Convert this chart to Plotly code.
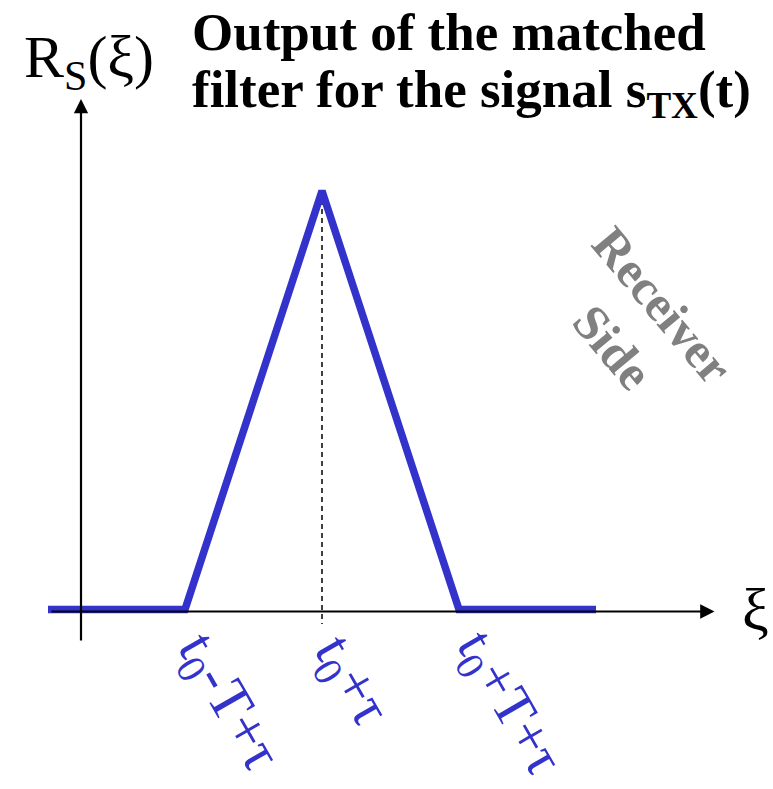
import plotly.graph_objects as go

# Matched-filter output: triangle centred on t0+tau with half-width T
xi_values = [-2, -1, 0, 1, 2]          # in units of T, relative to t0+tau
r_values = [0, 0, 1, 0, 0]             # normalised R_S(xi)
tick_values = [-1, 0, 1]
tick_labels = ["t<sub>0</sub>-T+τ", "t<sub>0</sub>+τ", "t<sub>0</sub>+T+τ"]

W, H = 773, 789
BLUE = "#3333CC"
SERIF = "Liberation Serif, Times New Roman, serif"

# axis ranges chosen so the layout fills the page
X_PX0, X_UNIT = 322, 137.0
Y_PX0, Y_UNIT = 609.5, 418.5
x_range = [-X_PX0 / X_UNIT, (W - X_PX0) / X_UNIT]
y_range = [-(H - Y_PX0) / Y_UNIT, Y_PX0 / Y_UNIT]


def dx(px):
    return (px - X_PX0) / X_UNIT


def dy(py):
    return (Y_PX0 - py) / Y_UNIT


fig = go.Figure()

# dashed marker at the peak
fig.add_trace(go.Scatter(
    x=[xi_values[2], xi_values[2]], y=[r_values[2], dy(624)],
    mode="lines", line=dict(color="black", width=1.5, dash="5px,4px"),
    hoverinfo="skip", showlegend=False))

# coordinate axes with arrowheads
fig.add_annotation(x=dx(714.5), y=dy(611.5), ax=dx(50), ay=dy(611.5),
                   xref="x", yref="y", axref="x", ayref="y", text="",
                   showarrow=True, arrowhead=2, arrowsize=1.3, arrowwidth=2.2,
                   arrowcolor="black")
fig.add_annotation(x=dx(81), y=dy(99), ax=dx(81), ay=dy(642),
                   xref="x", yref="y", axref="x", ayref="y", text="",
                   showarrow=True, arrowhead=2, arrowsize=1.3, arrowwidth=2.2,
                   arrowcolor="black")

fig.add_trace(go.Scatter(
    x=xi_values, y=r_values, mode="lines",
    line=dict(color=BLUE, width=7.5),
    hoverinfo="skip", showlegend=False))

# rotated tick labels below the axis
shifts = [(42, -93), (28, -72), (49, -94)]
sizes = [58, 58, 56]
for v, lab, (xs, ys), sz in zip(tick_values, tick_labels, shifts, sizes):
    fig.add_annotation(x=v, y=0, xref="x", yref="y", text=lab, showarrow=False,
                       textangle=60, xshift=xs, yshift=ys,
                       font=dict(family=SERIF, size=sz, color=BLUE))

# axis names
fig.add_annotation(x=22 / W, y=1 - 62 / H, xref="paper", yref="paper",
                   xanchor="left", yanchor="middle", showarrow=False,
                   text="R<sub>S</sub>(ξ)",
                   font=dict(family=SERIF, size=60, color="black"))
fig.add_annotation(x=dx(755), y=dy(610), xref="x", yref="y", showarrow=False,
                   text="ξ", font=dict(family=SERIF, size=60, color="black"))

# title, two lines
fig.add_annotation(x=190 / W, y=1 - 32 / H, xref="paper", yref="paper",
                   xanchor="left", yanchor="middle", showarrow=False,
                   text="<b>Output of the matched</b>",
                   font=dict(family=SERIF, size=53, color="black"))
fig.add_annotation(x=190 / W, y=1 - 93 / H, xref="paper", yref="paper",
                   xanchor="left", yanchor="middle", showarrow=False,
                   text="<b>filter for the signal s<sub>TX</sub>(t)</b>",
                   font=dict(family=SERIF, size=53, color="black"))

# side note
fig.add_annotation(x=dx(638), y=dy(326), xref="x", yref="y", showarrow=False,
                   text="<b>Receiver<br>Side</b>", textangle=50,
                   font=dict(family=SERIF, size=50, color="#808080"))

fig.update_layout(
    width=W, height=H, margin=dict(l=0, r=0, t=0, b=0),
    paper_bgcolor="white", plot_bgcolor="white",
    xaxis=dict(range=x_range, visible=False, fixedrange=True),
    yaxis=dict(range=y_range, visible=False, fixedrange=True),
)

fig.write_html("out.html")
